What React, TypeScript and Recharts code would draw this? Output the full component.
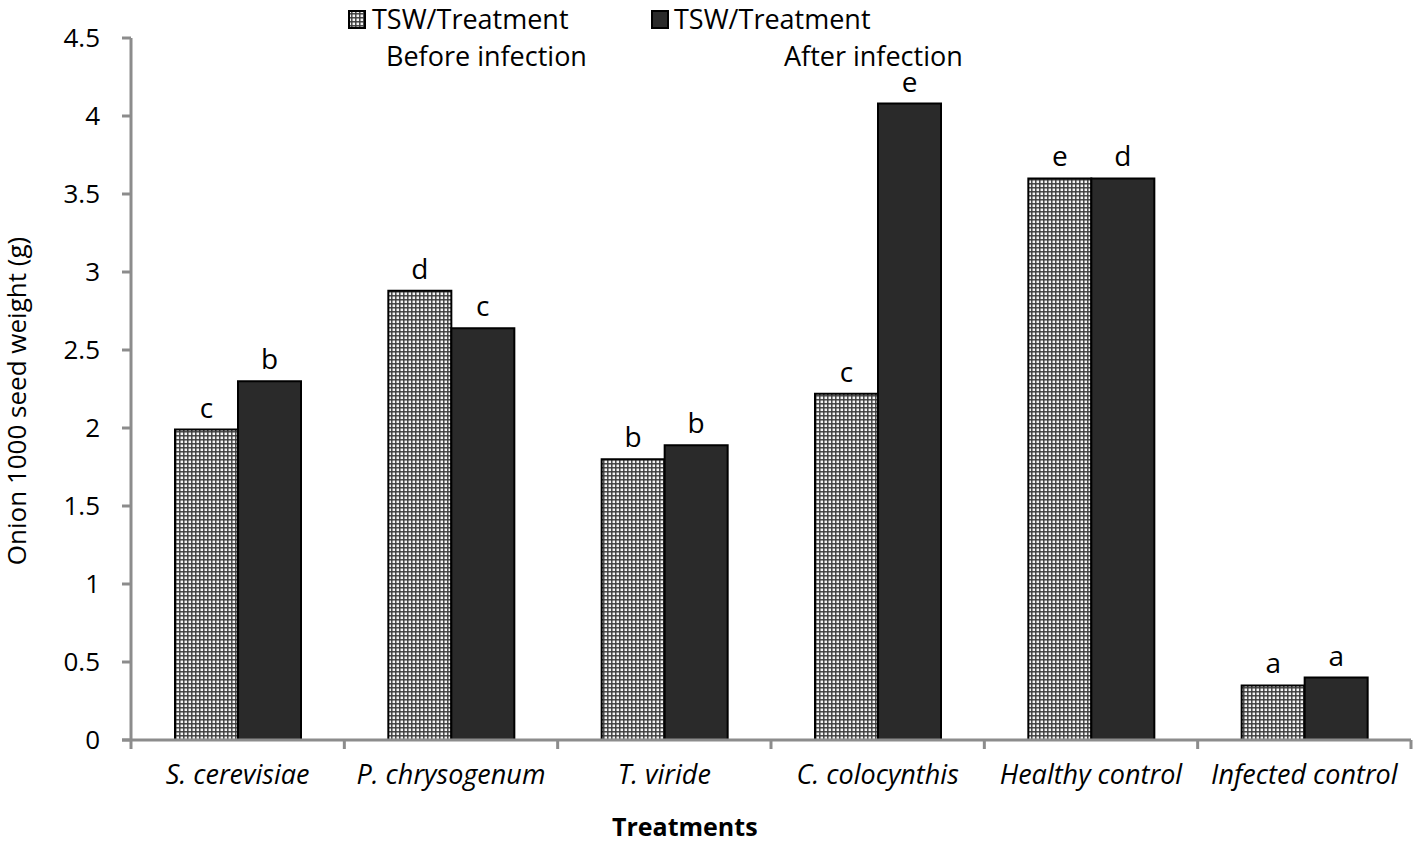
import { BarChart, Bar, XAxis, YAxis, LabelList } from 'recharts';

const treatments = ['S. cerevisiae', 'P. chrysogenum', 'T. viride', 'C. colocynthis', 'Healthy control', 'Infected control'];
const beforeInfection = [1.99, 2.88, 1.8, 2.22, 3.6, 0.35];
const afterInfection = [2.3, 2.64, 1.89, 4.08, 3.6, 0.4];
const beforeLetters = ['c', 'd', 'b', 'c', 'e', 'a'];
const afterLetters = ['b', 'c', 'b', 'e', 'd', 'a'];
const yTicks = [0, 0.5, 1, 1.5, 2, 2.5, 3, 3.5, 4, 4.5];

const FONT = '"Open Sans", sans-serif';
const AXIS = '#8c8c8c';
const PLOT_LEFT = 131;
const PLOT_RIGHT = 1411;

const data = treatments.map((name, i) => ({
  name,
  before: beforeInfection[i],
  after: afterInfection[i],
  beforeLetter: beforeLetters[i],
  afterLetter: afterLetters[i],
}));

// category labels plus the small tick marks on the category boundaries
function CategoryTick(props: any) {
  const { x, y, payload, index } = props;
  const half = payload && payload.offset ? payload.offset : (PLOT_RIGHT - PLOT_LEFT) / treatments.length / 2;
  const left = x - half;
  const right = x + half;
  return (
    <g>
      {index === 0 && <line x1={left - 9} y1={y} x2={left} y2={y} stroke={AXIS} strokeWidth={3} />}
      <line x1={left} y1={y} x2={left} y2={y + 9} stroke={AXIS} strokeWidth={3} />
      {index === treatments.length - 1 && <line x1={right} y1={y} x2={right} y2={y + 9} stroke={AXIS} strokeWidth={3} />}
      <text x={x} y={y + 44} textAnchor="middle" fontSize={27} fontStyle="italic" fill="#000" fontFamily={FONT}>
        {payload.value}
      </text>
    </g>
  );
}

const legendText = { position: 'absolute' as const, fontSize: 27, lineHeight: '37px', whiteSpace: 'nowrap' as const };

export default function App() {
  return (
    <div style={{ position: 'absolute', left: 0, top: 0, width: 1414, height: 846, background: '#fff', fontFamily: FONT, color: '#000' }}>
      <svg width="0" height="0" style={{ position: 'absolute' }}>
        <defs>
          <pattern id="checker" width="4" height="4" patternUnits="userSpaceOnUse">
            <rect width="4" height="4" fill="#3a3a3a" />
            <rect x="0.5" y="0.5" width="2.6" height="2.6" fill="#f4f4f4" />
          </pattern>
        </defs>
      </svg>
      <BarChart
        width={1414}
        height={846}
        data={data}
        margin={{ top: 38, right: 1414 - PLOT_RIGHT, bottom: 46, left: 0 }}
        barCategoryGap={44}
        barGap={0}
      >
        <XAxis
          dataKey="name"
          height={60}
          stroke={AXIS}
          strokeWidth={3}
          tickLine={false}
          tickSize={0}
          tickMargin={0}
          interval={0}
          tick={<CategoryTick />}
        />
        <YAxis
          width={PLOT_LEFT}
          domain={[0, 4.5]}
          ticks={yTicks}
          tickSize={9}
          tickMargin={22}
          stroke={AXIS}
          strokeWidth={3}
          tick={{ fontSize: 26, fill: '#000', fontFamily: FONT }}
        />
        <Bar dataKey="before" fill="url(#checker)" stroke="#000" strokeWidth={2} isAnimationActive={false}>
          <LabelList dataKey="beforeLetter" position="top" offset={12} style={{ fontSize: 28, fill: '#000', fontFamily: FONT }} />
        </Bar>
        <Bar dataKey="after" fill="#2a2a2a" stroke="#000" strokeWidth={2} isAnimationActive={false}>
          <LabelList dataKey="afterLetter" position="top" offset={12} style={{ fontSize: 28, fill: '#000', fontFamily: FONT }} />
        </Bar>
      </BarChart>

      <svg width="18" height="19" style={{ position: 'absolute', left: 348, top: 10 }}>
        <rect x="1" y="1" width="16" height="17" fill="url(#checker)" stroke="#000" strokeWidth="2" />
      </svg>
      <div style={{ ...legendText, left: 372, top: 0 }}>TSW/Treatment</div>
      <div style={{ ...legendText, left: 386, top: 37 }}>Before infection</div>
      <svg width="18" height="19" style={{ position: 'absolute', left: 651, top: 10 }}>
        <rect x="1" y="1" width="16" height="17" fill="#2a2a2a" stroke="#000" strokeWidth="2" />
      </svg>
      <div style={{ ...legendText, left: 674, top: 0 }}>TSW/Treatment</div>
      <div style={{ ...legendText, left: 784, top: 37 }}>After infection</div>

      <div style={{ position: 'absolute', left: 612, top: 814, fontSize: 25, lineHeight: '25px', fontWeight: 700, whiteSpace: 'nowrap' }}>
        Treatments
      </div>
      <div
        style={{
          position: 'absolute',
          left: 16,
          top: 401,
          fontSize: 26,
          lineHeight: '26px',
          whiteSpace: 'nowrap',
          transform: 'translate(-50%, -50%) rotate(-90deg)',
        }}
      >
        Onion 1000 seed weight (g)
      </div>
    </div>
  );
}
